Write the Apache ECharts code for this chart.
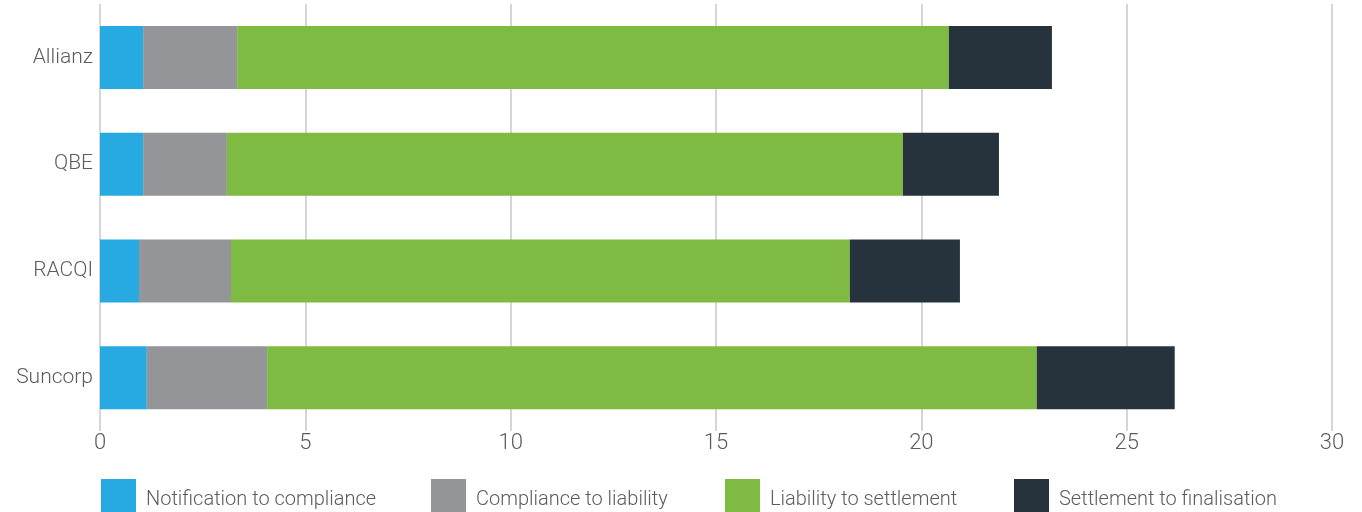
<!DOCTYPE html>
<html>
<head>
<meta charset="utf-8">
<script src="https://cdn.jsdelivr.net/npm/echarts@6/dist/echarts.min.js"></script>
<style>html,body{margin:0;padding:0;background:#fff}#c{width:1362px;height:512px}</style>
</head>
<body>
<div id="c"></div>
<script>
const categories = ['Allianz', 'QBE', 'RACQI', 'Suncorp'];
const seriesNames = ['Notification to compliance', 'Compliance to liability', 'Liability to settlement', 'Settlement to finalisation'];
const notificationToCompliance = [1.05, 1.05, 0.95, 1.14];
const complianceToLiability = [2.29, 2.04, 2.24, 2.93];
const liabilityToSettlement = [17.33, 16.46, 15.07, 18.74];
const settlementToFinalisation = [2.51, 2.34, 2.68, 3.36];
const xTicks = [0, 5, 10, 15, 20, 25, 30];

const colors = ['#27a9e1', '#939598', '#7fba42', '#26333c'];
const values = [notificationToCompliance, complianceToLiability, liabilityToSettlement, settlementToFinalisation];
const font = 'Roboto, "Liberation Sans", sans-serif';
const textColor = '#5b5c5e';
const legendLeft = [101, 431, 725, 1014];

const chart = echarts.init(document.getElementById('c'), null, {renderer: 'canvas'});
chart.setOption({
  animation: false,
  color: colors,
  grid: {left: 100, right: 30, top: 4, bottom: 81, containLabel: false},
  xAxis: {
    type: 'value', min: xTicks[0], max: xTicks[xTicks.length - 1], interval: 5,
    axisLine: {show: false}, axisTick: {show: false},
    splitLine: {show: true, lineStyle: {color: '#c8c8c8', width: 1.5}},
    axisLabel: {margin: 1, fontFamily: font, fontWeight: 300, fontSize: 22, color: textColor}
  },
  yAxis: {
    type: 'category', data: categories, inverse: true,
    axisLine: {show: false}, axisTick: {show: false},
    axisLabel: {margin: 7, fontFamily: font, fontWeight: 300, fontSize: 21, color: textColor}
  },
  legend: seriesNames.map((n, i) => ({
    data: [n], left: legendLeft[i], top: 479, itemWidth: 35, itemHeight: 33,
    icon: 'rect', padding: 0,
    formatter: '{a|{name}}',
    textStyle: {
      fontFamily: font, fontWeight: 300, fontSize: 20, color: textColor,
      rich: {a: {fontFamily: font, fontWeight: 300, fontSize: 20, color: textColor, padding: [8, 0, 0, 5]}}
    }
  })),
  series: seriesNames.map((n, i) => ({
    name: n, type: 'bar', stack: 'total', barWidth: 63,
    data: values[i], itemStyle: {color: colors[i]}
  }))
});
</script>
</body>
</html>
